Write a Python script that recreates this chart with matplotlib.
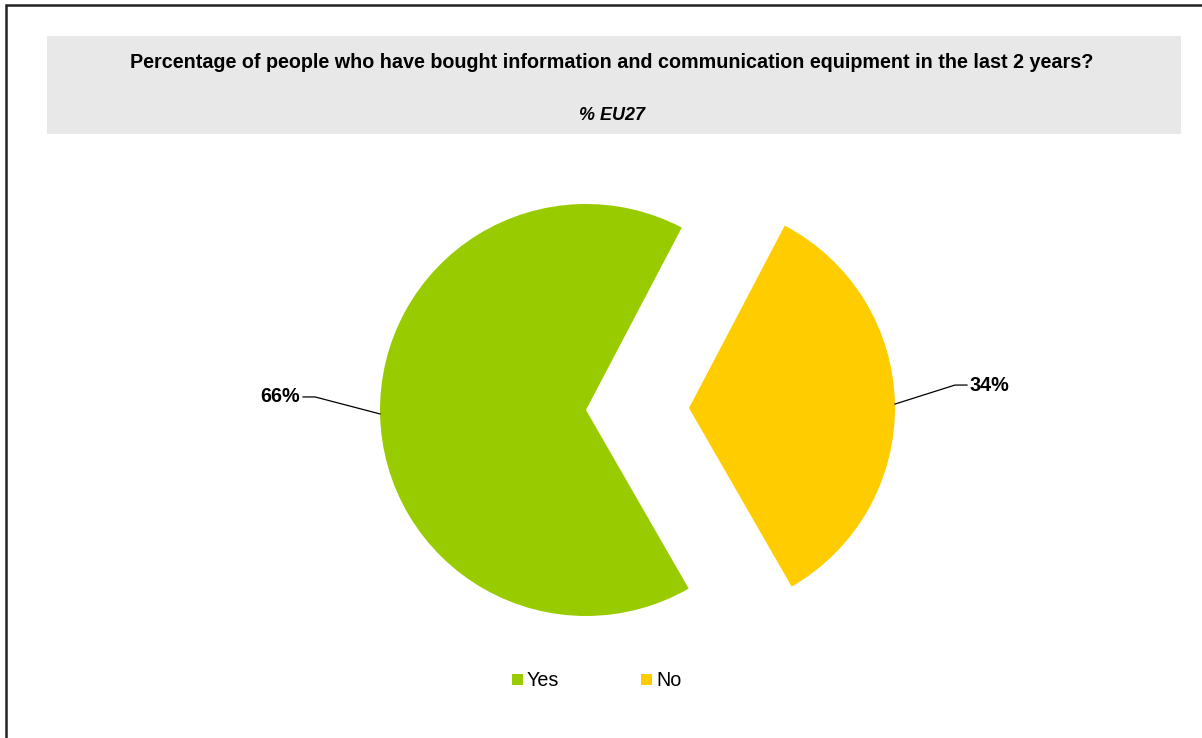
import matplotlib
matplotlib.use("Agg")
import matplotlib.pyplot as plt
from matplotlib.patches import Rectangle
import numpy as np

plt.rcParams['font.family'] = ['Liberation Sans', 'DejaVu Sans']

title = "Percentage of people who have bought information and communication equipment in the last 2 years?"
subtitle = "% EU27"
categories = ["Yes", "No"]
values = [66, 34]
colors = ["#99CC00", "#FFCC00"]

W, H = 1202, 738
FS = 14.2
fig = plt.figure(figsize=(W / 100, H / 100), dpi=100)
ax = fig.add_axes([0, 0, 1, 1])


def py(y):
    # convert top-down pixel row to axes y
    return H - y


# exploded pie
center = (637.5, py(409))
radius = 206
offset = 51.5
total = sum(values)
start = 360 * values[1] / total / 2 + 1.1
wedges, _ = ax.pie(values, colors=colors, startangle=start, counterclock=True,
                   center=center, radius=radius, explode=[offset, offset],
                   wedgeprops=dict(linewidth=0))
ax.set_xlim(0, W)
ax.set_ylim(0, H)
ax.set_aspect('equal')
ax.axis('off')

# outer frame
ax.add_patch(Rectangle((6, py(745)), 1210, 740, fill=False, edgecolor='#222222', lw=1.8))

# title band
ax.add_patch(Rectangle((47, py(134)), 1134, 98, facecolor='#E8E8E8', edgecolor='none'))
ax.text(612, py(62), title, ha='center', va='center', fontsize=FS, fontweight='bold')
ax.text(612, py(115), subtitle, ha='center', va='center', fontsize=13,
        fontweight='bold', fontstyle='italic')

# value labels with leader lines
label_specs = [
    # (elbow dx, elbow dy, tail length, text alignment)
    (-65, 17, -12, 'right'),
    (60, 19, 12, 'left'),
]
theta = start
for v, (ex, ey, tail, side) in zip(values, label_specs):
    frac = v / total * 360
    mid = np.deg2rad(theta + frac / 2)
    cx = center[0] + offset * np.cos(mid)
    cy = center[1] + offset * np.sin(mid)
    x0 = cx + radius * np.cos(mid)
    y0 = cy + radius * np.sin(mid)
    x1, y1 = x0 + ex, y0 + ey
    x2 = x1 + tail
    ax.plot([x0, x1, x2], [y0, y1, y1], color='black', lw=0.9)
    tx = x2 - 3 if side == 'right' else x2 + 3
    ax.text(tx, y1, f"{v}%", ha=side, va='center', fontsize=FS, fontweight='bold')
    theta += frac

# legend
leg_x = [512, 641]
for x, cat, col in zip(leg_x, categories, colors):
    ax.add_patch(Rectangle((x, py(685)), 11, 11, facecolor=col, edgecolor='none'))
    ax.text(x + 15, py(680), cat, ha='left', va='center', fontsize=FS)

fig.savefig("out.png", dpi=100)
